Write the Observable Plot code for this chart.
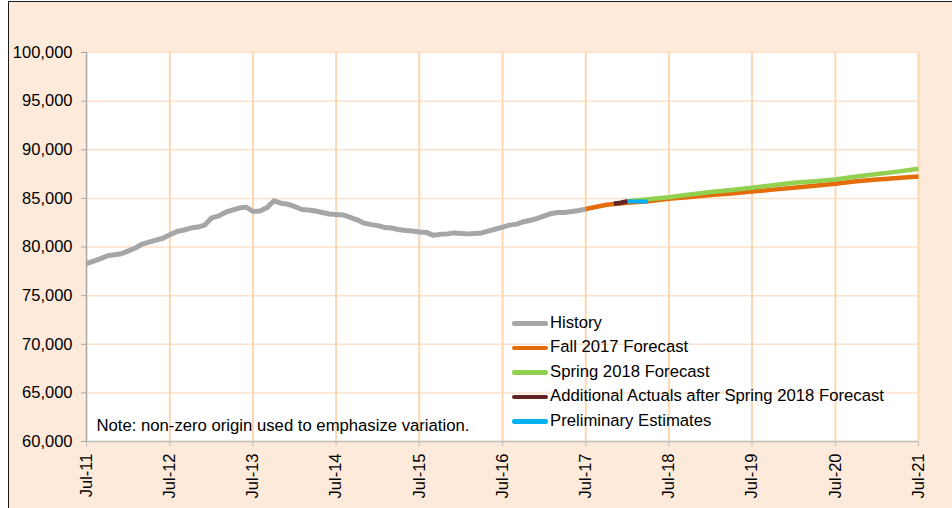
<!DOCTYPE html>
<html><head><meta charset="utf-8">
<script src="https://cdn.jsdelivr.net/npm/d3@7"></script>
<script src="https://cdn.jsdelivr.net/npm/@observablehq/plot@0.6"></script>
<style>
html,body{margin:0;padding:0;overflow:hidden;background:#fff;font-family:"Liberation Sans",Arial,sans-serif;}
#frame{position:absolute;left:8px;top:1px;width:960px;height:520px;border:1px solid #1a1a1a;background:#FDEADA;overflow:hidden}
#chart{position:absolute;left:0;top:0}
#legend{position:absolute;left:503px;top:309px;font-size:16.7px;color:#000;line-height:1}
.item{display:flex;align-items:center;height:24.5px;white-space:nowrap}
.sw{width:36px;height:4.5px;border-radius:2.25px;margin-right:2px}
</style></head>
<body>
<div id="frame"><div id="chart"></div><div id="legend"></div></div>
<script>
// ---- data ----
const historyStart = [2011, 6]; // Jul-2011, monthly
const historyValues = [78300,78550,78800,79100,79200,79300,79600,79900,80300,80500,80700,80900,
  81250,81600,81750,81950,82050,82250,83000,83200,83550,83800,84000,84100,
  83650,83700,84050,84750,84500,84400,84150,83850,83800,83700,83550,83400,
  83350,83300,83050,82800,82450,82300,82200,82000,81950,81800,81700,81650,
  81550,81500,81200,81300,81350,81450,81400,81350,81400,81450,81650,81850,
  82050,82250,82350,82600,82750,82950,83200,83450,83550,83550,83650,83750,83900];
const fallStart = [2017, 6]; // Jul-2017, quarterly
const fallValues = [83900,84350,84550,84700,84950,85150,85350,85500,85700,85900,86100,86300,86500,86750,86950,87100,87250];
const springMonths = ["2018-01","2018-04","2018-07","2018-10","2019-01","2019-04","2019-07","2019-10","2020-01","2020-04","2020-07","2020-10","2021-01","2021-04","2021-07"];
const springValues = [84700,84900,85120,85400,85650,85850,86100,86350,86600,86750,86950,87250,87500,87750,88050];
const actualsMonths = ["2017-11","2017-12","2018-01"];
const actualsValues = [84450,84550,84700];
const prelimMonths = ["2018-01","2018-02","2018-03","2018-04"];
const prelimValues = [84700,84680,84690,84680];
const yTicks = [60000,65000,70000,75000,80000,85000,90000,95000,100000];
const xTickLabels = ["Jul-11","Jul-12","Jul-13","Jul-14","Jul-15","Jul-16","Jul-17","Jul-18","Jul-19","Jul-20","Jul-21"];
const seriesNames = ["History","Fall 2017 Forecast","Spring 2018 Forecast","Additional Actuals after Spring 2018 Forecast","Preliminary Estimates"];
const seriesColors = ["#A6A6A6","#E46C0A","#92D050","#632523","#00B0F0"];
const note = "Note: non-zero origin used to emphasize variation.";

// ---- build tables ----
const monthly = (start, vals, step) => vals.map((v, i) => ({date: new Date(Date.UTC(start[0], start[1] + i * step, 1)), value: v}));
const byMonth = (months, vals) => months.map((m, i) => ({date: d3.utcParse("%Y-%m")(m), value: vals[i]}));
const parseTick = d3.utcParse("%b-%y");
const xTicks = xTickLabels.map(parseTick);

const historyData = monthly(historyStart, historyValues, 1);
const fallData = monthly(fallStart, fallValues, 3);
const springData = byMonth(springMonths, springValues);
const actualsData = byMonth(actualsMonths, actualsValues);
const prelimData = byMonth(prelimMonths, prelimValues);

const lineOpts = (c, w) => ({x: "date", y: "value", stroke: c, strokeWidth: w, strokeLinejoin: "round", strokeLinecap: "butt"});

const chart = Plot.plot({
  width: 944, height: 506,
  marginLeft: 77, marginRight: 35, marginTop: 50, marginBottom: 67,
  style: {background: "transparent", fontFamily: "'Liberation Sans', Arial, sans-serif", fontSize: "16.5px", color: "#000", overflow: "visible"},
  x: {type: "utc", domain: [xTicks[0], xTicks[xTicks.length - 1]]},
  y: {domain: [yTicks[0], yTicks[yTicks.length - 1]]},
  marks: [
    Plot.frame({fill: "white", stroke: null}),
    Plot.gridY(yTicks, {stroke: "#FCE2CC", strokeOpacity: 1, strokeWidth: 1.5}),
    Plot.gridX(xTicks, {stroke: "#FDD6B2", strokeOpacity: 1, strokeWidth: 2}),
    Plot.ruleX([xTicks[0]], {stroke: "#A6A6A6", strokeWidth: 1.2}),
    Plot.ruleY([yTicks[0]], {stroke: "#BFBFBF", strokeWidth: 1.5}),
    Plot.axisY(yTicks, {tickFormat: d3.format(","), tickSize: 5, tickPadding: 9, stroke: "#A6A6A6", fill: "#000", fontSize: 16.5, label: null}),
    Plot.axisX(xTicks, {tickFormat: d3.utcFormat("%b-%y"), tickRotate: -90, tickSize: 5, tickPadding: 7, stroke: "#BFBFBF", fill: "#000", fontSize: 16.5, label: null}),
    Plot.line(historyData, lineOpts(seriesColors[0], 5)),
    Plot.line(fallData, lineOpts(seriesColors[1], 4.5)),
    Plot.line(springData, lineOpts(seriesColors[2], 4.5)),
    Plot.line(actualsData, lineOpts(seriesColors[3], 4.5)),
    Plot.line(prelimData, lineOpts(seriesColors[4], 4)),
    Plot.text([note], {frameAnchor: "bottom-left", dx: 10, dy: -11, textAnchor: "start", lineAnchor: "bottom", fontSize: 16.7, fill: "#000"})
  ]
});
document.getElementById("chart").appendChild(chart);

const legend = document.getElementById("legend");
seriesNames.forEach((n, i) => {
  const row = document.createElement("div");
  row.className = "item";
  row.innerHTML = `<span class="sw" style="background:${seriesColors[i]}"></span><span>${n}</span>`;
  legend.appendChild(row);
});
</script>
</body></html>
